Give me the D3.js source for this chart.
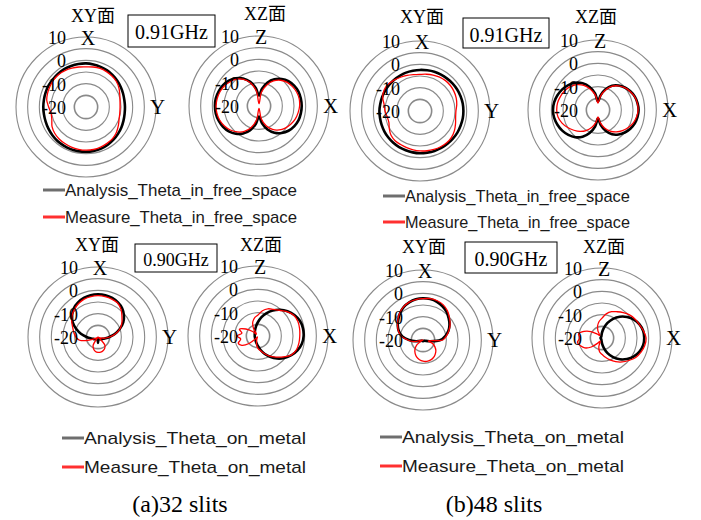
<!DOCTYPE html>
<html>
<head>
<meta charset="utf-8">
<script src="https://cdn.jsdelivr.net/npm/d3@7"></script>
<style>
  body { margin: 0; background: #fff; }
  svg text { font-family: "Liberation Serif", "Times New Roman", "Noto Sans CJK JP", serif; fill: #000; }
  svg .legend text { font-family: "Liberation Sans", Arial, sans-serif; fill: #1a1a1a; }
</style>
</head>
<body>
<svg width="701" height="520"></svg>
<script>
// angle grid (degrees, clockwise from the top axis)
const angles = [0, 10, 20, 30, 40, 50, 60, 70, 80, 90, 100, 110, 120, 130, 140, 150, 160, 170,
                180, 190, 200, 210, 220, 230, 240, 250, 260, 270, 280, 290, 300, 310, 320, 330, 340, 350];
const ringLevels = [-15, -10, -5, 0, 5, 10];
const tickLabels = [10, 0, -10, -20];

// (a) 32 slits, free space, 0.91GHz
const free32XYAnalysis = [-1.3, -1.5, -1.7, -1.9, -2.2, -2.5, -2.8, -3.1, -3.3, -3.3, -3.2, -2.9, -2.5, -2.1, -1.7, -1.3, -1.0, -0.9,
                          -0.8, -0.8, -0.8, -0.9, -1.0, -1.2, -1.4, -1.6, -1.7, -1.7, -1.7, -1.6, -1.5, -1.5, -1.4, -1.3, -1.3, -1.3];
const free32XYMeasure = [-2.8, -2.6, -2.4, -2.5, -2.7, -3.0, -3.7, -4.6, -5.2, -5.4, -5.3, -4.9, -4.0, -3.0, -2.3, -2.0, -1.7, -1.5,
                         -1.5, -1.6, -1.7, -1.9, -2.1, -2.5, -3.2, -4.4, -4.8, -4.0, -2.9, -2.5, -2.2, -1.9, -1.8, -2.0, -2.3, -2.6];
const free32XZAnalysis = [-15.5, -12.5, -9.3, -6.8, -4.9, -3.5, -2.6, -2.0, -1.8, -1.7, -1.8, -2.0, -2.6, -3.5, -4.9, -6.8, -9.3, -12.5,
                          -15.5, -12.3, -9.0, -6.4, -4.5, -3.1, -2.2, -1.6, -1.2, -1.1, -1.2, -1.6, -2.2, -3.1, -4.5, -6.4, -9.0, -12.3];
const free32XZMeasure = [-19, -14, -10.5, -7.6, -5.6, -4.2, -3.4, -2.8, -2.5, -2.6, -3.0, -3.5, -4.3, -5.3, -6.6, -8.4, -11, -14.5,
                         -19, -14, -10.2, -7.4, -5.5, -4.0, -2.9, -2.1, -1.7, -1.6, -1.8, -2.2, -2.8, -3.8, -5.0, -6.8, -9.5, -13.5];

// (b) 48 slits, free space, 0.91GHz
const free48XYAnalysis = [-2.4, -2.3, -2.1, -2.0, -1.9, -1.7, -1.6, -1.5, -1.4, -1.4, -1.4, -1.5, -1.5, -1.6, -1.7, -1.7, -1.8, -1.9,
                          -1.9, -2.0, -2.1, -2.1, -2.2, -2.3, -2.4, -2.5, -2.6, -2.6, -2.7, -2.7, -2.7, -2.7, -2.6, -2.6, -2.5, -2.5];
const free48XYMeasure = [-4.3, -4.0, -3.6, -3.2, -3.0, -3.0, -3.2, -3.5, -4.0, -4.6, -4.5, -3.8, -3.0, -2.4, -2.2, -2.3, -2.5, -2.7,
                         -2.9, -3.1, -3.3, -3.4, -3.4, -3.8, -4.8, -5.8, -5.7, -5.0, -4.4, -3.0, -2.2, -2.2, -2.7, -3.3, -3.8, -4.2];
const free48XZAnalysis = [-16.4, -13.5, -10.5, -8.0, -6.3, -5.0, -4.0, -3.2, -2.8, -2.6, -2.8, -3.2, -4.0, -5.0, -6.3, -8.0, -10.5, -13.5,
                          -16.4, -12.8, -9.5, -6.8, -4.8, -3.4, -2.3, -1.5, -0.9, -0.7, -0.9, -1.5, -2.3, -3.4, -4.8, -6.8, -9.5, -12.8];
const free48XZMeasure = [-17, -14, -11, -8.3, -6.5, -5.1, -4.1, -3.3, -2.9, -2.8, -3.2, -3.9, -5.0, -6.3, -7.8, -9.6, -11.8, -14.5,
                         -17, -14.5, -12, -9.8, -8.0, -6.5, -5.0, -3.6, -2.6, -2.3, -2.4, -2.9, -3.5, -4.4, -5.8, -7.8, -10.5, -13.5];

// (a) 32 slits, on metal, 0.90GHz
const metal32XYAnalysis = [-1.7, -1.8, -2.2, -2.9, -3.9, -5.5, -7.5, -10.1, -12.7, -15.1, -16.7, -17.7, -18.2, -18.5, -18.7, -18.9, -19.0, -19.0,
                           -17.5, -19.0, -19.0, -18.9, -18.7, -18.5, -18.2, -17.7, -16.7, -15.1, -12.7, -10.1, -7.5, -5.5, -3.9, -2.9, -2.2, -1.8];
const metal32XYMeasure = [-2.3, -2.4, -2.7, -3.2, -4.6, -6.6, -8.2, -10.0, -12.5, -15, -17, -19, -20, -20, -15.4, -14.3, -13.7, -13.4,
                          -13.4, -13.7, -14.5, -15.8, -20, -20, -19, -16, -12, -10.5, -9.5, -8.5, -7.0, -5.5, -4.4, -3.4, -2.7, -2.4];
const metal32XZAnalysis = [-14.0, -11.9, -9.7, -7.4, -5.3, -3.5, -2.0, -0.9, -0.45, -0.45, -0.9, -2.0, -3.5, -5.3, -7.4, -9.7, -11.9, -14.0,
                           -15.6, -16.7, -17.4, -17.9, -18.2, -18.4, -18.5, -18.6, -18.6, -18.6, -18.6, -18.5, -18.4, -18.2, -17.9, -17.4, -16.7, -15.6];
const metal32XZMeasure = [-11.0, -9.0, -7.6, -6.8, -5.6, -3.8, -2.3, -1.8, -1.9, -2.1, -2.2, -2.5, -3.6, -6.0, -8.2, -10.0, -12.0, -13.6,
                          -14.7, -16.5, -18.5, -19.5, -18.5, -15, -12, -11, -12.5, -11, -13, -11.5, -14, -17, -19, -16, -13.5, -12];

// (b) 48 slits, on metal, 0.90GHz
const metal48XYAnalysis = [-2.1, -2.2, -2.6, -3.3, -4.3, -5.6, -6.9, -8.4, -10.3, -12.5, -17, -19, -19.5, -19.5, -19.5, -19.5, -19.5, -19.5,
                           -19.5, -19.5, -19.5, -19.5, -19.5, -19.5, -19.5, -19, -17, -14.0, -11.0, -9.0, -7.5, -6.2, -4.8, -3.6, -2.8, -2.3];
const metal48XYMeasure = [-2.3, -2.0, -2.1, -2.6, -3.7, -5.2, -6.6, -8.2, -9.8, -11.5, -17.7, -15.6, -14.1, -12.8, -11.9, -11.2, -10.8, -10.7,
                          -10.9, -11.4, -12.2, -13.3, -14.6, -16.3, -19.5, -20, -16, -13.5, -10.5, -8.8, -7.4, -6.0, -4.6, -3.5, -2.7, -2.4];
const metal48XZAnalysis = [-17.7, -15.7, -13.1, -10.5, -8.1, -6.0, -4.2, -2.9, -2.1, -1.9, -2.1, -2.9, -4.2, -6.0, -8.1, -10.5, -13.1, -15.7,
                           -17.7, -18.8, -19.2, -19.4, -19.4, -19.4, -19.4, -19.4, -19.4, -19.4, -19.4, -19.4, -19.4, -19.4, -19.4, -19.4, -19.2, -18.8];
const metal48XZMeasure = [-11.5, -9.5, -8.0, -7.0, -5.8, -4.6, -3.7, -3.0, -2.0, -1.1, -1.4, -2.2, -3.3, -5.0, -6.6, -8.3, -10.0, -11.6,
                          -13.0, -14.0, -16.0, -18.5, -17, -14, -11.5, -10.2, -9.3, -10.5, -9.8, -11.8, -14.5, -17.5, -18.5, -16.5, -14.5, -12.8];

const freqLabels = ["0.91GHz", "0.91GHz", "0.90GHz", "0.90GHz"];
const legendLabels = [
    ["Analysis_Theta_in_free_space", "Measure_Theta_in_free_space"],
    ["Analysis_Theta_on_metal", "Measure_Theta_on_metal"]
];
const captions = ["(a)32 slits", "(b)48 slits"];

const svg = d3.select("svg");
const outerR = 70;
const r = d3.scaleLinear().domain([-20, 10]).range([0, outerR]).clamp(true);

const radial = d3.lineRadial()
    .angle((d, i) => angles[i] * Math.PI / 180)
    .radius(d => r(d))
    .curve(d3.curveCatmullRomClosed.alpha(0.5));

// panel layout
const panels = [
    { cx: 86,  cy: 107, title: "XY面", tdx: 7,  ty: 22,  top: "X", right: "Y", a: free32XYAnalysis,  m: free32XYMeasure },
    { cx: 259, cy: 106, title: "XZ面", tdx: 6,  ty: 20,  top: "Z", right: "X", a: free32XZAnalysis,  m: free32XZMeasure },
    { cx: 420, cy: 111, title: "XY面", tdx: 2,  ty: 23,  top: "X", right: "Y", a: free48XYAnalysis,  m: free48XYMeasure },
    { cx: 598, cy: 110, title: "XZ面", tdx: -2, ty: 23,  top: "Z", right: "X", a: free48XZAnalysis,  m: free48XZMeasure },
    { cx: 98,  cy: 337, title: "XY面", tdx: -1, ty: 251, top: "X", right: "Y", a: metal32XYAnalysis, m: metal32XYMeasure },
    { cx: 258, cy: 336, title: "XZ面", tdx: 3,  ty: 251, top: "Z", right: "X", a: metal32XZAnalysis, m: metal32XZMeasure },
    { cx: 423, cy: 340, title: "XY面", tdx: 1,  ty: 253, top: "X", right: "Y", a: metal48XYAnalysis, m: metal48XYMeasure },
    { cx: 602, cy: 338, title: "XZ面", tdx: 2,  ty: 253, top: "Z", right: "X", a: metal48XZAnalysis, m: metal48XZMeasure }
];

panels.forEach(p => {
    const g = svg.append("g").attr("transform", `translate(${p.cx},${p.cy})`);

    g.selectAll("circle.ring")
        .data(ringLevels)
        .enter()
        .append("circle")
        .attr("class", "ring")
        .attr("r", d => r(d))
        .attr("fill", "none")
        .attr("stroke", "#8a8a8a")
        .attr("stroke-width", (d, i) => i === 0 ? 1.6 : 1.1);

    g.append("path")
        .attr("d", radial(p.a))
        .attr("fill", "none")
        .attr("stroke", "#000")
        .attr("stroke-width", 2.6);

    g.append("path")
        .attr("d", radial(p.m))
        .attr("fill", "none")
        .attr("stroke", "#ff0000")
        .attr("stroke-width", 1.3);

    g.selectAll("text.tick")
        .data(tickLabels)
        .enter()
        .append("text")
        .attr("class", "tick")
        .attr("x", -20)
        .attr("y", d => -r(d) + 7)
        .attr("text-anchor", "end")
        .attr("font-size", 18)
        .text(d => d);

    g.append("text")
        .attr("x", 2)
        .attr("y", -62)
        .attr("text-anchor", "middle")
        .attr("font-size", 20)
        .text(p.top);

    g.append("text")
        .attr("x", 64)
        .attr("y", 7)
        .attr("font-size", 21)
        .text(p.right);

    svg.append("text")
        .attr("x", p.cx + p.tdx)
        .attr("y", p.ty)
        .attr("text-anchor", "middle")
        .attr("font-size", 18)
        .text(p.title);
});

// frequency boxes
const boxes = [
    { x: 128, y: 15,  w: 87, h: 32, ty: 39,  fs: 20 },
    { x: 463, y: 18,  w: 86, h: 30, ty: 42,  fs: 20 },
    { x: 135, y: 244, w: 82, h: 28, ty: 266, fs: 18 },
    { x: 465, y: 242, w: 92, h: 31, ty: 266, fs: 20 }
];
boxes.forEach((b, i) => {
    svg.append("rect")
        .attr("x", b.x).attr("y", b.y)
        .attr("width", b.w).attr("height", b.h)
        .attr("fill", "#fff")
        .attr("stroke", "#000")
        .attr("stroke-width", 1);
    svg.append("text")
        .attr("x", b.x + b.w / 2)
        .attr("y", b.ty)
        .attr("text-anchor", "middle")
        .attr("font-size", b.fs)
        .text(freqLabels[i]);
});

// legends
const legends = [
    { x: 43,  y: 190, dy: 27, w: 232, set: 0 },
    { x: 383, y: 196, dy: 26, w: 225, set: 0 },
    { x: 62,  y: 438, dy: 29, w: 222, set: 1 },
    { x: 380, y: 437, dy: 29, w: 222, set: 1 }
];
const legendColors = ["#6e6e6e", "#ff3030"];
legends.forEach(l => {
    const g = svg.append("g").attr("class", "legend");
    legendLabels[l.set].forEach((label, i) => {
        const y = l.y + i * l.dy;
        g.append("line")
            .attr("x1", l.x).attr("x2", l.x + 22)
            .attr("y1", y).attr("y2", y)
            .attr("stroke", legendColors[i])
            .attr("stroke-width", 3);
        g.append("text")
            .attr("x", l.x + 22)
            .attr("y", y + 6)
            .attr("font-size", 17)
            .attr("textLength", l.w)
            .attr("lengthAdjust", "spacingAndGlyphs")
            .text(label);
    });
});

// captions
svg.selectAll("text.caption")
    .data(captions)
    .enter()
    .append("text")
    .attr("class", "caption")
    .attr("x", (d, i) => i === 0 ? 180 : 494)
    .attr("y", 512)
    .attr("text-anchor", "middle")
    .attr("font-size", 24)
    .text(d => d);
</script>
</body>
</html>
